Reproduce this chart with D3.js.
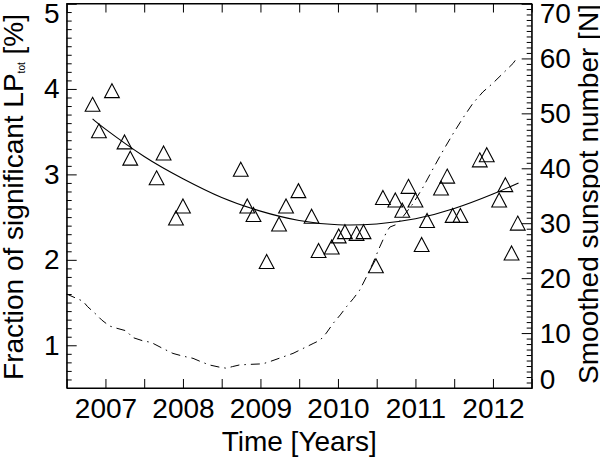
<!DOCTYPE html>
<html>
<head>
<meta charset="utf-8">
<script src="https://cdn.jsdelivr.net/npm/d3@7"></script>
<style>
  html, body { margin: 0; padding: 0; background: #fff; }
  svg { display: block; }
  text { font-family: "Liberation Sans", Arial, Helvetica, sans-serif; fill: #000; }
</style>
</head>
<body>
<svg id="chart" width="600" height="459"></svg>
<script>
// ---- Data ----
// Fraction of significant LP_tot [%] (triangles)
const triYear = [2006.834, 2006.916, 2007.084, 2007.246, 2007.32, 2007.66, 2007.75, 2007.91, 2008.0,
  2008.746, 2008.83, 2008.91, 2009.08, 2009.24, 2009.33, 2009.49, 2009.66, 2009.75, 2009.92, 2010.01,
  2010.09, 2010.24, 2010.33, 2010.49, 2010.58, 2010.74, 2010.83, 2010.91, 2011.0, 2011.08, 2011.15,
  2011.33, 2011.41, 2011.48, 2011.58, 2011.83, 2011.92, 2012.08, 2012.16, 2012.24, 2012.32];
const triValue = [3.82, 3.51, 3.98, 3.38, 3.19, 2.96, 3.25, 2.49, 2.63,
  3.06, 2.63, 2.53, 1.98, 2.42, 2.63, 2.81, 2.51, 2.11, 2.15, 2.28,
  2.33, 2.31, 2.33, 1.93, 2.73, 2.70, 2.58, 2.86, 2.70, 2.18, 2.46,
  2.84, 2.98, 2.52, 2.52, 3.17, 3.23, 2.70, 2.88, 2.08, 2.43];

// Fitted curve (solid line)
const fitYear  = [2006.834, 2007.0, 2007.5, 2008.0, 2008.5, 2009.0, 2009.5, 2010.0, 2010.5, 2011.0, 2011.5, 2012.0, 2012.33];
const fitValue = [3.65, 3.53, 3.21, 2.95, 2.73, 2.57, 2.46, 2.41, 2.42, 2.48, 2.60, 2.77, 2.90];

// Smoothed sunspot number (dash-dot line, right axis)
const ssnYear = [2006.50, 2006.71, 2006.77, 2006.88, 2006.95, 2007.05, 2007.14, 2007.27, 2007.35, 2007.48,
  2007.59, 2007.74, 2007.87, 2008.00, 2008.13, 2008.23, 2008.34, 2008.47, 2008.56, 2008.64,
  2008.73, 2008.86, 2009.03, 2009.12, 2009.30, 2009.42, 2009.55, 2009.68, 2009.77, 2009.85,
  2009.94, 2010.03, 2010.11, 2010.20, 2010.28, 2010.37, 2010.45, 2010.54, 2010.63, 2010.67,
  2010.76, 2010.84, 2010.97, 2011.10, 2011.23, 2011.36, 2011.49, 2011.61, 2011.74, 2011.87,
  2012.00, 2012.13, 2012.26, 2012.32];
const ssnValue = [17.1, 15.8, 14.8, 13.4, 12.4, 11.3, 10.9, 10.4, 9.2, 8.6,
  8.3, 7.2, 6.3, 5.8, 5.4, 4.8, 4.2, 3.8, 3.6, 3.9,
  4.2, 4.3, 4.4, 4.8, 5.7, 6.3, 7.2, 8.1, 8.7, 10.0,
  11.8, 13.3, 14.8, 16.3, 17.8, 20.3, 22.7, 25.7, 28.5, 29.3,
  29.8, 31.2, 33.6, 36.6, 40.0, 43.3, 46.4, 49.1, 51.8, 53.9,
  55.5, 57.3, 59.1, 60.3];

// Axis ticks / labels
const xTickYears = [2007, 2008, 2009, 2010, 2011, 2012];
const leftTicks = [1, 2, 3, 4, 5];
const rightTicks = [0, 10, 20, 30, 40, 50, 60, 70];
const xTitle = "Time [Years]";
const yLeftTitleMain = "Fraction of significant LP";
const yLeftTitleSub = "tot";
const yLeftTitleEnd = " [%]";
const yRightTitle = "Smoothed sunspot number [N]";

// ---- Layout ----
const W = 600, H = 459;
const m = { left: 66.7, right: 68.3, top: 3.5, bottom: 71 };
const x0 = m.left, x1 = W - m.right, y0 = H - m.bottom, y1 = m.top;
const FS = 28;

const svg = d3.select("#chart");
const x = d3.scaleLinear().domain([2006.5, 2012.5]).range([x0, x1]);
const yL = d3.scaleLinear().domain([0.5, 5]).range([y0, y1]);
const yR = d3.scaleLinear().domain([0, 70]).range([y0, y1]);

const halfYears = d3.range(2006.5, 2012.51, 0.5).filter(v => v > 2006.5 && v < 2012.5);
const leftMinor = d3.range(0.6, 5.0, 0.1).map(v => +v.toFixed(2)).filter(v => Math.abs(v - Math.round(v)) > 1e-6);
const rightMinor = d3.range(1, 70, 1).filter(v => v % 10 !== 0);

function styleAxis(g) {
  g.selectAll("path.domain").attr("stroke", "#000").attr("stroke-width", 1);
  g.selectAll(".tick line").attr("stroke", "#000").attr("stroke-width", 1);
  g.selectAll("text").attr("font-size", FS).attr("font-family", '"Liberation Sans", Arial, Helvetica, sans-serif').attr("fill", "#000");
}

// bottom axis
const gB = svg.append("g").attr("transform", `translate(0,${y0})`)
  .call(d3.axisBottom(x).tickValues(halfYears).tickSize(-9).tickPadding(10)
    .tickFormat(d => xTickYears.includes(d) ? String(d) : ""));
styleAxis(gB);
// top axis
const gT = svg.append("g").attr("transform", `translate(0,${y1})`)
  .call(d3.axisTop(x).tickValues(halfYears).tickSize(-9).tickFormat(""));
styleAxis(gT);
// left axis
const gL = svg.append("g").attr("transform", `translate(${x0},0)`)
  .call(d3.axisLeft(yL).tickValues(leftTicks).tickSize(-10).tickPadding(7).tickFormat(d3.format("d")));
styleAxis(gL);
gL.selectAll(".tick text").attr("y", d => Math.max(yL(d), 14) - yL(d));
const gLm = svg.append("g").attr("transform", `translate(${x0},0)`)
  .call(d3.axisLeft(yL).tickValues(leftMinor).tickSize(-5).tickFormat(""));
styleAxis(gLm);
gLm.select("path.domain").remove();
// right axis
const gR = svg.append("g").attr("transform", `translate(${x1},0)`)
  .call(d3.axisRight(yR).tickValues(rightTicks).tickSize(-10).tickPadding(8).tickFormat(d3.format("d")));
styleAxis(gR);
gR.selectAll(".tick text").attr("y", d => Math.min(Math.max(yR(d), 14), 380) - yR(d));
const gRm = svg.append("g").attr("transform", `translate(${x1},0)`)
  .call(d3.axisRight(yR).tickValues(rightMinor).tickSize(-5).tickFormat(""));
styleAxis(gRm);
gRm.select("path.domain").remove();

// frame
svg.append("rect").attr("x", x0).attr("y", y1).attr("width", x1 - x0).attr("height", y0 - y1)
  .attr("fill", "none").attr("stroke", "#000").attr("stroke-width", 1);

// sunspot dash-dot line
const ssnData = ssnYear.map((t, i) => [t, ssnValue[i]]);
svg.append("path").datum(ssnData)
  .attr("d", d3.line().x(d => x(d[0])).y(d => yR(d[1])))
  .attr("fill", "none").attr("stroke", "#000").attr("stroke-width", 1)
  .attr("stroke-dasharray", "9,5,1.5,5");

// fit curve
const fitData = fitYear.map((t, i) => [t, fitValue[i]]);
svg.append("path").datum(fitData)
  .attr("d", d3.line().x(d => x(d[0])).y(d => yL(d[1])).curve(d3.curveNatural))
  .attr("fill", "none").attr("stroke", "#000").attr("stroke-width", 1.1);

// triangles
const tri = d3.symbol().type({ draw(ctx) { ctx.moveTo(0, -7); ctx.lineTo(7.4, 7); ctx.lineTo(-7.4, 7); ctx.closePath(); } });
svg.append("g").selectAll("path").data(triYear.map((t, i) => [t, triValue[i]])).join("path")
  .attr("transform", d => `translate(${x(d[0])},${yL(d[1])})`)
  .attr("d", tri())
  .attr("fill", "none").attr("stroke", "#000").attr("stroke-width", 1.1);

// titles
svg.append("text").attr("x", (x0 + x1) / 2).attr("y", 451).attr("text-anchor", "middle")
  .attr("font-size", FS).text(xTitle);

const lt = svg.append("text").attr("transform", "translate(23,197) rotate(-90)")
  .attr("text-anchor", "middle").attr("font-size", FS);
lt.append("tspan").text(yLeftTitleMain);
lt.append("tspan").attr("font-size", 10).attr("dy", 2).text(yLeftTitleSub);
lt.append("tspan").attr("dy", -2).text(yLeftTitleEnd);

svg.append("text").attr("transform", "translate(598,194) rotate(-90)")
  .attr("text-anchor", "middle").attr("font-size", FS).text(yRightTitle);
</script>
</body>
</html>
